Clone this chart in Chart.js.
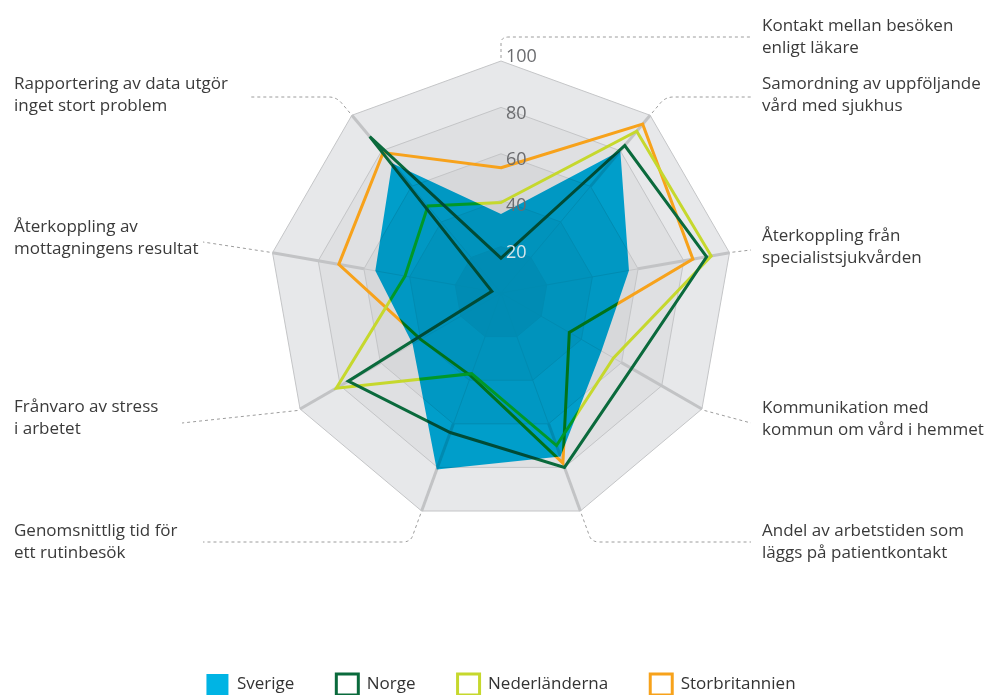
<!DOCTYPE html>
<html>
<head>
<meta charset="utf-8">
<script src="https://cdn.jsdelivr.net/npm/chart.js@4"></script>
<style>
  html, body { margin: 0; padding: 0; background: #fff; }
</style>
</head>
<body>
<canvas id="chart" width="989" height="695"></canvas>
<script>
// categories, clockwise from the top
const categories = [
  ["Kontakt mellan besöken", "enligt läkare"],
  ["Samordning av uppföljande", "vård med sjukhus"],
  ["Återkoppling från", "specialistsjukvården"],
  ["Kommunikation med", "kommun om vård i hemmet"],
  ["Andel av arbetstiden som", "läggs på patientkontakt"],
  ["Genomsnittlig tid för", "ett rutinbesök"],
  ["Frånvaro av stress", "i arbetet"],
  ["Återkoppling av", "mottagningens resultat"],
  ["Rapportering av data utgör", "inget stort problem"]
];

const sverige        = [34, 80, 56, 50, 75, 81, 44, 55, 73];
const norge          = [15, 83, 90, 65, 80, 64, 76, 4, 88];
const nederlanderna  = [39, 91, 92, 56, 70, 37, 82, 42, 49];
const storbritannien = [54, 95, 84, 34, 78, 38, 40, 71, 79];

const tickValues = [20, 40, 60, 80, 100];

// where each outer label sits and where its dashed leader ends
const labelLayout = [
  { x: 762, y: 26,  lineY: 37,  endX: 751 },
  { x: 762, y: 84,  lineY: 97,  endX: 751 },
  { x: 762, y: 236, lineY: 250, endX: 751 },
  { x: 762, y: 408, lineY: 423, endX: 751 },
  { x: 762, y: 531, lineY: 542, endX: 751 },
  { x: 14,  y: 531, lineY: 542, endX: 203 },
  { x: 14,  y: 407, lineY: 423, endX: 182 },
  { x: 14,  y: 227, lineY: 242, endX: 203 },
  { x: 14,  y: 84,  lineY: 97,  endX: 250 }
];

const ringColors = ["#c6c7c9", "#cfd0d2", "#d7d8da", "#dfe0e2", "#e7e8ea"];
const FONT = "'Open Sans', sans-serif";

Chart.defaults.font.family = FONT;

function polygon(ctx, scale, n, dist) {
  ctx.beginPath();
  for (let i = 0; i < n; i++) {
    const p = scale.getPointPosition(i, dist);
    if (i === 0) ctx.moveTo(p.x, p.y); else ctx.lineTo(p.x, p.y);
  }
  ctx.closePath();
}

function drawLeader(ctx, s, i, L) {
  const v = s.getPointPosition(i, s.drawingArea + 3);
  const dx = Math.cos(v.angle), dy = Math.sin(v.angle);
  const side = L.endX > v.x ? 1 : -1;
  const gap = Math.abs(L.lineY - v.y);
  ctx.beginPath();
  ctx.moveTo(v.x, v.y);
  if (gap < 15) {
    ctx.lineTo(L.endX, L.lineY);
  } else {
    const t = (gap - 6) / Math.abs(dy);
    const p1x = v.x + dx * t, p1y = v.y + dy * t;
    const cx = p1x + dx * 6 / Math.abs(dy);
    ctx.lineTo(p1x, p1y);
    ctx.quadraticCurveTo(cx, L.lineY, cx + side * 8, L.lineY);
    ctx.lineTo(L.endX, L.lineY);
  }
  ctx.stroke();
}

let blending = false;

const radarDecor = {
  id: "radarDecor",
  beforeDraw(chart) {
    const s = chart.scales.r, ctx = chart.ctx, n = chart.data.labels.length;
    ctx.save();
    for (let k = tickValues.length - 1; k >= 0; k--) {
      polygon(ctx, s, n, s.getDistanceFromCenterForValue(tickValues[k]));
      ctx.fillStyle = ringColors[k];
      ctx.fill();
    }
    ctx.restore();
  },
  beforeDatasetsDraw(chart) {
    const s = chart.scales.r, ctx = chart.ctx, n = chart.data.labels.length;
    // heavier spokes in the outer rings
    ctx.save();
    ctx.strokeStyle = "#c2c3c5";
    ctx.lineWidth = 3;
    const d0 = s.getDistanceFromCenterForValue(60), d1 = s.getDistanceFromCenterForValue(100);
    for (let i = 1; i < n; i++) {
      const a = s.getPointPosition(i, d0), b = s.getPointPosition(i, d1);
      ctx.beginPath();
      ctx.moveTo(a.x, a.y);
      ctx.lineTo(b.x, b.y);
      ctx.stroke();
    }
    ctx.restore();
  },
  // lines are drawn first (index 3..1); the Sverige area goes on top, multiplied
  afterDatasetDraw(chart, args) {
    if (args.index === 1 && !blending) {
      chart.ctx.save();
      chart.ctx.globalCompositeOperation = "multiply";
      blending = true;
    }
  },
  afterDatasetsDraw(chart) {
    const s = chart.scales.r, ctx = chart.ctx;
    if (blending) { ctx.restore(); blending = false; }

    // tick labels
    ctx.save();
    ctx.font = "18px " + FONT;
    ctx.textAlign = "left";
    ctx.textBaseline = "middle";
    s.ticks.forEach(t => {
      if (t.value <= 0) return;
      const y = s.yCenter - s.getDistanceFromCenterForValue(t.value);
      ctx.fillStyle = t.value <= 20 ? "#d6e6eb" : "#6b6c6f";
      ctx.fillText(String(t.value), s.xCenter + 5, y + (t.value === s.max ? -4 : 6));
    });
    ctx.restore();

    // outer labels with dashed leaders
    ctx.save();
    ctx.strokeStyle = "#9c9c9c";
    ctx.lineWidth = 1;
    ctx.setLineDash([3, 3]);
    chart.data.labels.forEach((lab, i) => drawLeader(ctx, s, i, labelLayout[i]));
    ctx.setLineDash([]);
    ctx.font = "17px " + FONT;
    ctx.fillStyle = "#3a3a3a";
    ctx.textAlign = "left";
    ctx.textBaseline = "middle";
    chart.data.labels.forEach((lab, i) => {
      const L = labelLayout[i];
      lab.forEach((line, j) => ctx.fillText(line, L.x, L.y + j * 22));
    });
    ctx.restore();
  }
};

new Chart(document.getElementById("chart"), {
  type: "radar",
  data: {
    labels: categories,
    datasets: [
      {
        label: "Sverige",
        data: sverige,
        backgroundColor: "#00b4e4",
        borderColor: "rgba(0,0,0,0)",
        borderWidth: 0,
        fill: true
      },
      {
        label: "Norge",
        data: norge,
        backgroundColor: "rgba(255,255,255,0)",
        borderColor: "#0a6a3c",
        borderWidth: 3,
        fill: false
      },
      {
        label: "Nederländerna",
        data: nederlanderna,
        backgroundColor: "rgba(255,255,255,0)",
        borderColor: "#c6d82d",
        borderWidth: 3,
        fill: false
      },
      {
        label: "Storbritannien",
        data: storbritannien,
        backgroundColor: "rgba(255,255,255,0)",
        borderColor: "#f7a21b",
        borderWidth: 3,
        fill: false
      }
    ]
  },
  options: {
    responsive: false,
    animation: false,
    layout: { padding: { top: 61, left: 13, right: 0, bottom: -10 } },
    elements: {
      line: { tension: 0, borderJoinStyle: "miter" },
      point: { radius: 0, hoverRadius: 0 }
    },
    scales: {
      r: {
        min: 0,
        max: 100,
        ticks: { stepSize: 20, display: false },
        grid: { color: "#c4c5c7", lineWidth: 1 },
        angleLines: {
          lineWidth: 1,
          color: c => (c.index === 0 ? "rgba(0,0,0,0)" : "#c4c5c7")
        },
        pointLabels: { display: false }
      }
    },
    plugins: {
      tooltip: { enabled: false },
      legend: {
        position: "bottom",
        title: { display: true, text: "", padding: { top: 97, bottom: 0 }, font: { size: 10, lineHeight: 1 } },
        labels: {
          boxWidth: 22,
          boxHeight: 21,
          padding: 42,
          color: "#333333",
          font: { family: FONT, size: 17 }
        }
      }
    }
  },
  plugins: [radarDecor]
});
</script>
</body>
</html>
